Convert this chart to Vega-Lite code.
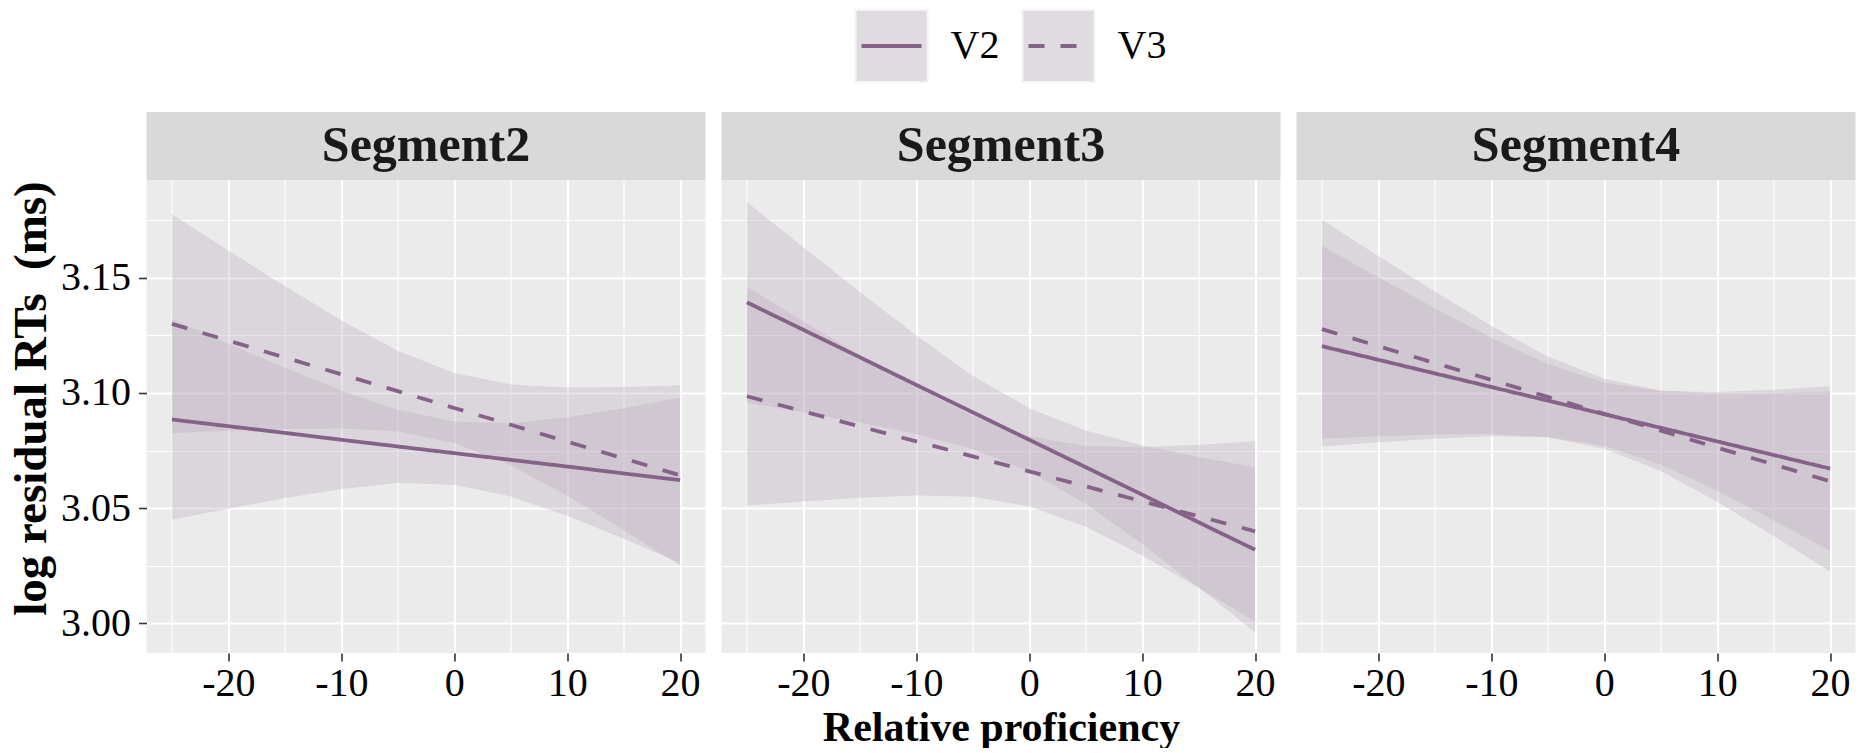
{
  "$schema": "https://vega.github.io/schema/vega-lite/v6.json",
  "background": "white",
  "padding": {"left": 7.5, "top": 0, "right": 5, "bottom": 0},
  "config": {"view": {"stroke": null}, "font": "Liberation Serif"},
  "datasets": {
    "bands": [
      {"segment":"Segment2","version":"V2","x":-25,"fit":3.0885,"lower":3.0450,"upper":3.1320},
      {"segment":"Segment2","version":"V2","x":-20,"fit":3.0856,"lower":3.0498,"upper":3.1214},
      {"segment":"Segment2","version":"V2","x":-15,"fit":3.0827,"lower":3.0544,"upper":3.1110},
      {"segment":"Segment2","version":"V2","x":-10,"fit":3.0797,"lower":3.0583,"upper":3.1011},
      {"segment":"Segment2","version":"V2","x":-5,"fit":3.0768,"lower":3.0609,"upper":3.0927},
      {"segment":"Segment2","version":"V2","x":0,"fit":3.0739,"lower":3.0602,"upper":3.0876},
      {"segment":"Segment2","version":"V2","x":5,"fit":3.0710,"lower":3.0551,"upper":3.0869},
      {"segment":"Segment2","version":"V2","x":10,"fit":3.0681,"lower":3.0467,"upper":3.0895},
      {"segment":"Segment2","version":"V2","x":15,"fit":3.0651,"lower":3.0368,"upper":3.0934},
      {"segment":"Segment2","version":"V2","x":20,"fit":3.0622,"lower":3.0264,"upper":3.0980},
      {"segment":"Segment2","version":"V3","x":-25,"fit":3.1300,"lower":3.0825,"upper":3.1775},
      {"segment":"Segment2","version":"V3","x":-20,"fit":3.1227,"lower":3.0836,"upper":3.1618},
      {"segment":"Segment2","version":"V3","x":-15,"fit":3.1154,"lower":3.0844,"upper":3.1464},
      {"segment":"Segment2","version":"V3","x":-10,"fit":3.1081,"lower":3.0846,"upper":3.1316},
      {"segment":"Segment2","version":"V3","x":-5,"fit":3.1008,"lower":3.0833,"upper":3.1183},
      {"segment":"Segment2","version":"V3","x":0,"fit":3.0935,"lower":3.0783,"upper":3.1087},
      {"segment":"Segment2","version":"V3","x":5,"fit":3.0862,"lower":3.0687,"upper":3.1037},
      {"segment":"Segment2","version":"V3","x":10,"fit":3.0789,"lower":3.0554,"upper":3.1024},
      {"segment":"Segment2","version":"V3","x":15,"fit":3.0716,"lower":3.0406,"upper":3.1026},
      {"segment":"Segment2","version":"V3","x":20,"fit":3.0643,"lower":3.0252,"upper":3.1034},
      {"segment":"Segment3","version":"V2","x":-25,"fit":3.1393,"lower":3.0958,"upper":3.1828},
      {"segment":"Segment3","version":"V2","x":-20,"fit":3.1274,"lower":3.0916,"upper":3.1632},
      {"segment":"Segment3","version":"V2","x":-15,"fit":3.1155,"lower":3.0872,"upper":3.1438},
      {"segment":"Segment3","version":"V2","x":-10,"fit":3.1035,"lower":3.0821,"upper":3.1249},
      {"segment":"Segment3","version":"V2","x":-5,"fit":3.0916,"lower":3.0757,"upper":3.1075},
      {"segment":"Segment3","version":"V2","x":0,"fit":3.0797,"lower":3.0660,"upper":3.0934},
      {"segment":"Segment3","version":"V2","x":5,"fit":3.0678,"lower":3.0519,"upper":3.0837},
      {"segment":"Segment3","version":"V2","x":10,"fit":3.0559,"lower":3.0345,"upper":3.0773},
      {"segment":"Segment3","version":"V2","x":15,"fit":3.0439,"lower":3.0156,"upper":3.0722},
      {"segment":"Segment3","version":"V2","x":20,"fit":3.0320,"lower":2.9962,"upper":3.0678},
      {"segment":"Segment3","version":"V3","x":-25,"fit":3.0986,"lower":3.0511,"upper":3.1461},
      {"segment":"Segment3","version":"V3","x":-20,"fit":3.0920,"lower":3.0529,"upper":3.1311},
      {"segment":"Segment3","version":"V3","x":-15,"fit":3.0855,"lower":3.0545,"upper":3.1165},
      {"segment":"Segment3","version":"V3","x":-10,"fit":3.0790,"lower":3.0555,"upper":3.1025},
      {"segment":"Segment3","version":"V3","x":-5,"fit":3.0725,"lower":3.0550,"upper":3.0900},
      {"segment":"Segment3","version":"V3","x":0,"fit":3.0660,"lower":3.0508,"upper":3.0812},
      {"segment":"Segment3","version":"V3","x":5,"fit":3.0595,"lower":3.0420,"upper":3.0770},
      {"segment":"Segment3","version":"V3","x":10,"fit":3.0530,"lower":3.0295,"upper":3.0765},
      {"segment":"Segment3","version":"V3","x":15,"fit":3.0465,"lower":3.0155,"upper":3.0775},
      {"segment":"Segment3","version":"V3","x":20,"fit":3.0400,"lower":3.0009,"upper":3.0791},
      {"segment":"Segment4","version":"V2","x":-25,"fit":3.1203,"lower":3.0768,"upper":3.1638},
      {"segment":"Segment4","version":"V2","x":-20,"fit":3.1144,"lower":3.0786,"upper":3.1502},
      {"segment":"Segment4","version":"V2","x":-15,"fit":3.1085,"lower":3.0802,"upper":3.1368},
      {"segment":"Segment4","version":"V2","x":-10,"fit":3.1026,"lower":3.0812,"upper":3.1240},
      {"segment":"Segment4","version":"V2","x":-5,"fit":3.0967,"lower":3.0808,"upper":3.1126},
      {"segment":"Segment4","version":"V2","x":0,"fit":3.0908,"lower":3.0771,"upper":3.1045},
      {"segment":"Segment4","version":"V2","x":5,"fit":3.0849,"lower":3.0690,"upper":3.1008},
      {"segment":"Segment4","version":"V2","x":10,"fit":3.0790,"lower":3.0576,"upper":3.1004},
      {"segment":"Segment4","version":"V2","x":15,"fit":3.0731,"lower":3.0448,"upper":3.1014},
      {"segment":"Segment4","version":"V2","x":20,"fit":3.0672,"lower":3.0314,"upper":3.1030},
      {"segment":"Segment4","version":"V3","x":-25,"fit":3.1277,"lower":3.0802,"upper":3.1752},
      {"segment":"Segment4","version":"V3","x":-20,"fit":3.1203,"lower":3.0812,"upper":3.1594},
      {"segment":"Segment4","version":"V3","x":-15,"fit":3.1130,"lower":3.0820,"upper":3.1440},
      {"segment":"Segment4","version":"V3","x":-10,"fit":3.1057,"lower":3.0822,"upper":3.1292},
      {"segment":"Segment4","version":"V3","x":-5,"fit":3.0983,"lower":3.0808,"upper":3.1158},
      {"segment":"Segment4","version":"V3","x":0,"fit":3.0910,"lower":3.0758,"upper":3.1062},
      {"segment":"Segment4","version":"V3","x":5,"fit":3.0837,"lower":3.0662,"upper":3.1012},
      {"segment":"Segment4","version":"V3","x":10,"fit":3.0763,"lower":3.0528,"upper":3.0998},
      {"segment":"Segment4","version":"V3","x":15,"fit":3.0690,"lower":3.0380,"upper":3.1000},
      {"segment":"Segment4","version":"V3","x":20,"fit":3.0617,"lower":3.0226,"upper":3.1008}
    ]
  },
  "hconcat": [
    {
      "spacing": 20,
      "vconcat": [
        {"width": 559, "height": 92, "data": {"values": [{"a": 1}]}, "mark": {"type": "point", "opacity": 0}},
        {
          "spacing": 0,
          "vconcat": [
            {"width": 559, "height": 68, "data": {"values": [{"segment": "Segment2"}]}, "view": {"fill": "#D9D9D9", "stroke": null},
             "mark": {"type": "text", "font": "Liberation Serif", "fontSize": 50, "fontWeight": "bold", "color": "#1A1A1A", "baseline": "middle", "align": "center"},
             "encoding": {"text": {"field": "segment"}}},
            {
              "width": 559, "height": 473,
              "data": {"name": "bands"},
              "transform": [{"filter": "datum.segment === 'Segment2'"}],
              "view": {"fill": "#EBEBEB", "stroke": null},
              "layer": [
                {"mark": {"type": "area", "fill": "#BEB0BE", "fillOpacity": 0.35},
                 "encoding": {
                   "x": {"field": "x", "type": "quantitative", "scale": {"domain": [-27.25, 22.25], "nice": false, "zero": false},
                         "axis": {"orient": "top", "values": [-25, -15, -5, 5, 15], "grid": true, "gridColor": "#FFFFFF", "gridWidth": 1.1, "labels": false, "ticks": false, "domain": false, "title": null}},
                   "y": {"field": "lower", "type": "quantitative", "scale": {"domain": [2.9872, 3.1924], "nice": false, "zero": false},
                         "axis": {"orient": "right", "values": [3.025, 3.075, 3.125, 3.175], "grid": true, "gridColor": "#FFFFFF", "gridWidth": 1.1, "labels": false, "ticks": false, "domain": false, "title": null}},
                   "y2": {"field": "upper"},
                   "detail": {"field": "version"}
                 }},
                {"mark": {"type": "line", "color": "#86628A", "strokeWidth": 3.8, "strokeCap": "butt"},
                 "encoding": {
                   "x": {"field": "x", "type": "quantitative",
                         "axis": {"orient": "bottom", "values": [-20, -10, 0, 10, 20], "grid": true, "gridColor": "#FFFFFF", "gridWidth": 2.2, "domain": false, "ticks": true, "tickColor": "#333333", "tickSize": 8, "tickWidth": 1.6, "labelFont": "Liberation Serif", "labelFontSize": 40, "labelColor": "#000000", "labelPadding": 2, "labelAngle": 0, "labelFlush": false, "labelOverlap": false, "labelExpr": "'' + datum.value", "title": null}},
                   "y": {"field": "fit", "type": "quantitative",
                         "axis": {"orient": "left", "values": [3, 3.05, 3.1, 3.15], "format": ".2f", "grid": true, "gridColor": "#FFFFFF", "gridWidth": 2.2, "domain": false, "ticks": true, "tickColor": "#333333", "tickSize": 8, "tickWidth": 1.6, "labelFont": "Liberation Serif", "labelFontSize": 40, "labelColor": "#000000", "labelPadding": 8, "labelOverlap": false, "labelFlush": false, "title": "log residual RTs\u00a0 (ms)", "titleFont": "Liberation Serif", "titleFontSize": 47, "titleFontWeight": "bold", "titleColor": "#000000", "titlePadding": 5, "titleY": 218}},
                   "strokeDash": {"field": "version", "type": "nominal", "scale": {"domain": ["V2", "V3"], "range": [[1, 0], [16, 16]]}, "legend": null}
                 }}
              ],
              "resolve": {"axis": {"x": "independent", "y": "independent"}}
            }
          ]
        }
      ]
    },
    {
      "spacing": 20,
      "vconcat": [
        {
          "width": 501, "height": 92,
          "data": {"values": [{"version": "V2"}, {"version": "V3"}]},
          "encoding": {"x": {"field": "version", "type": "nominal", "scale": {"type": "point", "padding": 1, "align": 0.509}, "axis": null}},
          "layer": [
            {"mark": {"type": "point", "shape": "square", "size": 5184, "filled": true, "fill": "#E0DBE0", "stroke": "#F3F3F3", "strokeWidth": 2, "opacity": 1}},
            {"mark": {"type": "point", "shape": "M-1,0L1,0", "size": 3600, "filled": false, "stroke": "#86628A", "strokeWidth": 4, "strokeCap": "butt", "opacity": 1},
             "encoding": {"strokeDash": {"field": "version", "type": "nominal", "scale": {"domain": ["V2", "V3"], "range": [[1, 0], [16, 16]]}, "legend": null}}},
            {"mark": {"type": "text", "align": "left", "dx": 59, "baseline": "middle", "font": "Liberation Serif", "fontSize": 40, "color": "#000000"},
             "encoding": {"text": {"field": "version"}}}
          ]
        },
        {
          "spacing": 0,
          "vconcat": [
            {"width": 559, "height": 68, "data": {"values": [{"segment": "Segment3"}]}, "view": {"fill": "#D9D9D9", "stroke": null},
             "mark": {"type": "text", "font": "Liberation Serif", "fontSize": 50, "fontWeight": "bold", "color": "#1A1A1A", "baseline": "middle", "align": "center"},
             "encoding": {"text": {"field": "segment"}}},
            {
              "width": 559, "height": 473,
              "data": {"name": "bands"},
              "transform": [{"filter": "datum.segment === 'Segment3'"}],
              "view": {"fill": "#EBEBEB", "stroke": null},
              "layer": [
                {"mark": {"type": "area", "fill": "#BEB0BE", "fillOpacity": 0.35},
                 "encoding": {
                   "x": {"field": "x", "type": "quantitative", "scale": {"domain": [-27.25, 22.25], "nice": false, "zero": false},
                         "axis": {"orient": "top", "values": [-25, -15, -5, 5, 15], "grid": true, "gridColor": "#FFFFFF", "gridWidth": 1.1, "labels": false, "ticks": false, "domain": false, "title": null}},
                   "y": {"field": "lower", "type": "quantitative", "scale": {"domain": [2.9872, 3.1924], "nice": false, "zero": false},
                         "axis": {"orient": "right", "values": [3.025, 3.075, 3.125, 3.175], "grid": true, "gridColor": "#FFFFFF", "gridWidth": 1.1, "labels": false, "ticks": false, "domain": false, "title": null}},
                   "y2": {"field": "upper"},
                   "detail": {"field": "version"}
                 }},
                {"mark": {"type": "line", "color": "#86628A", "strokeWidth": 3.8, "strokeCap": "butt"},
                 "encoding": {
                   "x": {"field": "x", "type": "quantitative",
                         "axis": {"orient": "bottom", "values": [-20, -10, 0, 10, 20], "grid": true, "gridColor": "#FFFFFF", "gridWidth": 2.2, "domain": false, "ticks": true, "tickColor": "#333333", "tickSize": 8, "tickWidth": 1.6, "labelFont": "Liberation Serif", "labelFontSize": 40, "labelColor": "#000000", "labelPadding": 2, "labelAngle": 0, "labelFlush": false, "labelOverlap": false, "labelExpr": "'' + datum.value",
                                  "title": "Relative proficiency", "titleFont": "Liberation Serif", "titleFontSize": 42, "titleFontWeight": "bold", "titleColor": "#000000", "titlePadding": 4}},
                   "y": {"field": "fit", "type": "quantitative",
                         "axis": {"orient": "left", "values": [3, 3.05, 3.1, 3.15], "grid": true, "gridColor": "#FFFFFF", "gridWidth": 2.2, "domain": false, "ticks": false, "labels": false, "title": null}},
                   "strokeDash": {"field": "version", "type": "nominal", "scale": {"domain": ["V2", "V3"], "range": [[1, 0], [16, 16]]}, "legend": null}
                 }}
              ],
              "resolve": {"axis": {"x": "independent", "y": "independent"}}
            }
          ]
        }
      ]
    },
    {
      "spacing": 20,
      "vconcat": [
        {"width": 559, "height": 92, "data": {"values": [{"a": 1}]}, "mark": {"type": "point", "opacity": 0}},
        {
          "spacing": 0,
          "vconcat": [
            {"width": 559, "height": 68, "data": {"values": [{"segment": "Segment4"}]}, "view": {"fill": "#D9D9D9", "stroke": null},
             "mark": {"type": "text", "font": "Liberation Serif", "fontSize": 50, "fontWeight": "bold", "color": "#1A1A1A", "baseline": "middle", "align": "center"},
             "encoding": {"text": {"field": "segment"}}},
            {
              "width": 559, "height": 473,
              "data": {"name": "bands"},
              "transform": [{"filter": "datum.segment === 'Segment4'"}],
              "view": {"fill": "#EBEBEB", "stroke": null},
              "layer": [
                {"mark": {"type": "area", "fill": "#BEB0BE", "fillOpacity": 0.35},
                 "encoding": {
                   "x": {"field": "x", "type": "quantitative", "scale": {"domain": [-27.25, 22.25], "nice": false, "zero": false},
                         "axis": {"orient": "top", "values": [-25, -15, -5, 5, 15], "grid": true, "gridColor": "#FFFFFF", "gridWidth": 1.1, "labels": false, "ticks": false, "domain": false, "title": null}},
                   "y": {"field": "lower", "type": "quantitative", "scale": {"domain": [2.9872, 3.1924], "nice": false, "zero": false},
                         "axis": {"orient": "right", "values": [3.025, 3.075, 3.125, 3.175], "grid": true, "gridColor": "#FFFFFF", "gridWidth": 1.1, "labels": false, "ticks": false, "domain": false, "title": null}},
                   "y2": {"field": "upper"},
                   "detail": {"field": "version"}
                 }},
                {"mark": {"type": "line", "color": "#86628A", "strokeWidth": 3.8, "strokeCap": "butt"},
                 "encoding": {
                   "x": {"field": "x", "type": "quantitative",
                         "axis": {"orient": "bottom", "values": [-20, -10, 0, 10, 20], "grid": true, "gridColor": "#FFFFFF", "gridWidth": 2.2, "domain": false, "ticks": true, "tickColor": "#333333", "tickSize": 8, "tickWidth": 1.6, "labelFont": "Liberation Serif", "labelFontSize": 40, "labelColor": "#000000", "labelPadding": 2, "labelAngle": 0, "labelFlush": false, "labelOverlap": false, "labelExpr": "'' + datum.value", "title": null}},
                   "y": {"field": "fit", "type": "quantitative",
                         "axis": {"orient": "left", "values": [3, 3.05, 3.1, 3.15], "grid": true, "gridColor": "#FFFFFF", "gridWidth": 2.2, "domain": false, "ticks": false, "labels": false, "title": null}},
                   "strokeDash": {"field": "version", "type": "nominal", "scale": {"domain": ["V2", "V3"], "range": [[1, 0], [16, 16]]}, "legend": null}
                 }}
              ],
              "resolve": {"axis": {"x": "independent", "y": "independent"}}
            }
          ]
        }
      ]
    }
  ],
  "spacing": 16
}
